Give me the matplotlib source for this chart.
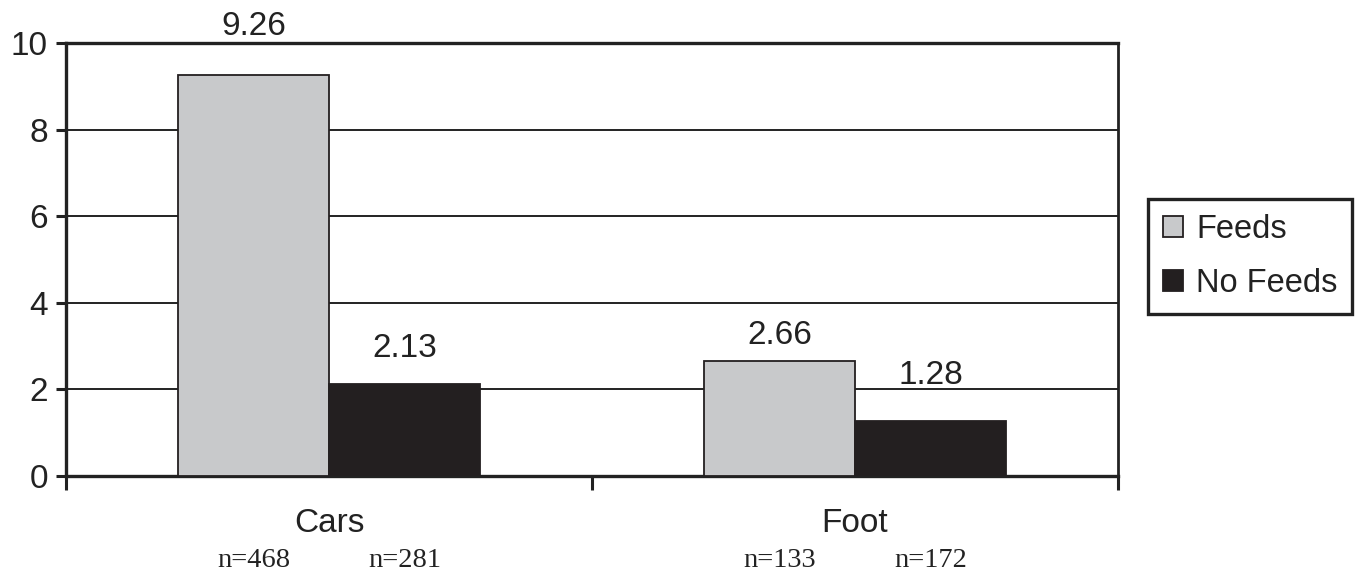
import matplotlib
matplotlib.use("Agg")
import matplotlib.pyplot as plt
import numpy as np

# Data
categories = ["Cars", "Foot"]
series_names = ["Feeds", "No Feeds"]
feeds = [9.26, 2.66]
no_feeds = [2.13, 1.28]
n_feeds = ["n=468", "n=133"]
n_no_feeds = ["n=281", "n=172"]
y_ticks = [0, 2, 4, 6, 8, 10]

# Styling
feeds_color = "#c8c9cb"
no_feeds_color = "#231f20"
edge_color = "#231f20"
bar_width = 0.287
label_gap_pt = [[28.5, 12.0], [19.5, 26.5]]  # vertical gap (pt) of value labels: [series][category]

plt.rcParams["font.family"] = ["Liberation Sans", "DejaVu Sans"]

fig = plt.figure(figsize=(13.6, 5.78), dpi=100)
ax = fig.add_axes([66 / 1360, 1 - 476 / 578, (1118 - 66) / 1360, (476 - 43) / 578])

x = np.arange(len(categories))
b1 = ax.bar(x - bar_width / 2, feeds, bar_width, color=feeds_color,
            edgecolor=edge_color, linewidth=1.3, label=series_names[0], zorder=3)
b2 = ax.bar(x + bar_width / 2, no_feeds, bar_width, color=no_feeds_color,
            edgecolor=edge_color, linewidth=1.3, label=series_names[1], zorder=3)

# Value labels above the bars
for s, (bars, vals) in enumerate([(b1, feeds), (b2, no_feeds)]):
    for i, (rect, v) in enumerate(zip(bars, vals)):
        ax.annotate(f"{v:.2f}", xy=(rect.get_x() + rect.get_width() / 2, v),
                    xytext=(0, label_gap_pt[s][i]), textcoords="offset points",
                    ha="center", va="baseline", fontsize=24, color="#222222",
                    annotation_clip=False)

ax.set_xlim(-0.5, 1.5)
ax.set_ylim(0, 10)
ax.set_yticks(y_ticks)
ax.set_yticklabels([str(t) for t in y_ticks], fontsize=24, color="#222222")
ax.yaxis.grid(True, color="#222222", linewidth=1.4, zorder=0)
ax.set_axisbelow(True)

ax.set_xticks([-0.5, 0.5, 1.5])
ax.set_xticklabels([])
ax.tick_params(axis="x", direction="out", length=10, width=2.2, color="#222222")
ax.tick_params(axis="y", direction="out", length=7, width=2.2, color="#222222", pad=6)

for side in ["left", "bottom", "top", "right"]:
    ax.spines[side].set_linewidth(2.4)
    ax.spines[side].set_color("#222222")
ax.spines["right"].set_linewidth(2.0)

# Category names and sample sizes under the axis
xt = ax.get_xaxis_transform()
for i, cat in enumerate(categories):
    ax.text(x[i], -(532 - 476) / 433, cat, transform=xt, ha="center", va="baseline",
            fontsize=24, color="#222222")
    ax.text(x[i] - bar_width / 2, -(567 - 476) / 433, n_feeds[i], transform=xt,
            ha="center", va="baseline", fontsize=20.5, color="#222222",
            family=["Liberation Serif", "DejaVu Serif"])
    ax.text(x[i] + bar_width / 2, -(567 - 476) / 433, n_no_feeds[i], transform=xt,
            ha="center", va="baseline", fontsize=20.5, color="#222222",
            family=["Liberation Serif", "DejaVu Serif"])

leg = ax.legend(loc="upper left", bbox_to_anchor=(1148 / 1360, 1 - 199 / 578),
                bbox_transform=fig.transFigure, borderaxespad=0, fontsize=23.5,
                handlelength=0.62, handleheight=0.62, handletextpad=0.4,
                labelspacing=0.72, borderpad=0.45, fancybox=False, framealpha=1)
leg.get_frame().set_edgecolor("#222222")
leg.get_frame().set_linewidth(2.4)
for t in leg.get_texts():
    t.set_color("#222222")
for h in leg.legend_handles:
    h.set_linewidth(1.3)

fig.savefig("out.png", dpi=100)
